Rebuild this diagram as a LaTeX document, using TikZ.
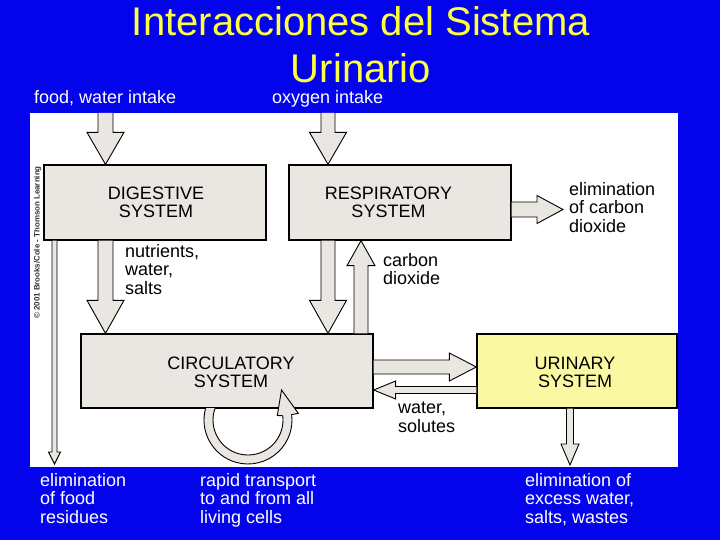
\documentclass[tikz,border=0pt]{standalone}
\usepackage{fontspec}
\setmainfont{Liberation Sans}
\usetikzlibrary{calc}
\definecolor{bgblue}{RGB}{4,4,236}
\definecolor{boxgray}{RGB}{234,230,225}
\definecolor{urinyellow}{RGB}{250,248,160}
\definecolor{titleyellow}{RGB}{255,255,64}
\newcommand\blockarr[5]{%
  \coordinate (ba-h) at ($(#2)!#5!(#1)$);
  \fill[boxgray] ($(#1)!#3!90:(#2)$) -- ($(ba-h)!#3!90:(#2)$) -- ($(ba-h)!#4!90:(#2)$) -- (#2) -- ($(ba-h)!#4!-90:(#2)$) -- ($(ba-h)!#3!-90:(#2)$) -- ($(#1)!#3!-90:(#2)$) -- cycle;
  \draw[arrline] ($(#1)!#3!90:(#2)$) -- ($(ba-h)!#3!90:(#2)$) -- ($(ba-h)!#4!90:(#2)$) -- (#2) -- ($(ba-h)!#4!-90:(#2)$) -- ($(ba-h)!#3!-90:(#2)$) -- ($(#1)!#3!-90:(#2)$);
}
\begin{document}
\begin{tikzpicture}[x=1pt,y=-1pt,
  sysbox/.style={draw=black, line width=1.3pt, fill=boxgray, inner sep=0pt},
  arrline/.style={draw=black, line width=0.9pt, line join=miter},
  boxtext/.style={font=\fontsize{18}{18.5}\selectfont, align=center, inner sep=0pt, text=black},
  lbl/.style={font=\fontsize{18}{18.5}\selectfont, align=left, inner sep=0pt, anchor=north west},
  wlbl/.style={lbl, text=white},
  titlestyle/.style={font=\fontsize{40}{47}\selectfont, text=titleyellow, inner sep=0pt, anchor=base}]
\useasboundingbox (0,0) rectangle (720,540);
\fill[bgblue] (0,0) rectangle (720,540);
\fill[white] (30,113) rectangle (678,467);

% title
\node[titlestyle] (title1) at (361,36) {Interacciones del Sistema};
\node[titlestyle] (title2) at (361,83) {Urinario};
\node[wlbl] (food) at (34,90.6) {food, water intake};
\node[wlbl] (oxy) at (272,90.6) {oxygen intake};

% copyright
\node[rotate=90, anchor=base, inner sep=0pt, font=\fontsize{7.9}{8}\selectfont\bfseries, text=black!80] (copy) at (39.5,242.5) {© 2001 Brooks/Cole - Thomson Learning};

% boxes
\node[sysbox, minimum width=222, minimum height=75] (dig) at (155,202.5) {};
\node[sysbox, minimum width=222, minimum height=75] (resp) at (400,202.5) {};
\node[sysbox, minimum width=292, minimum height=74] (circ) at (227,371) {};
\node[sysbox, fill=urinyellow, minimum width=200, minimum height=74] (urin) at (577,371) {};

\node[boxtext] (digt) at (156,202.5) {DIGESTIVE\\SYSTEM};
\node[boxtext] (respt) at (388.5,202.5) {RESPIRATORY\\SYSTEM};
\node[boxtext] (circt) at (231,372.5) {CIRCULATORY\\SYSTEM};
\node[boxtext] (urint) at (575,372.5) {URINARY\\SYSTEM};

% named coordinates for connector ends
\coordinate (foodin) at (105.5,113);
\coordinate (oxyin) at (328,113);
\coordinate (co2x) at (361,300);
\coordinate (co2end) at (563,209.5);
\coordinate (c2u) at (420,367);
\coordinate (u2c) at (420,390);
\coordinate (uout) at (570,465);
\coordinate (resout) at (54.5,464);

% block arrows
\blockarr{foodin}{foodin |- dig.north}{7.5pt}{18.5pt}{32pt}
\blockarr{oxyin}{oxyin |- resp.north}{7pt}{18.5pt}{32pt}
\blockarr{foodin |- dig.south}{foodin |- circ.north}{7.5pt}{18.5pt}{33pt}
\blockarr{oxyin |- resp.south}{oxyin |- circ.north}{7pt}{18.5pt}{33pt}
\blockarr{co2x |- circ.north}{co2x |- resp.south}{7pt}{14pt}{25pt}
\blockarr{resp.east |- co2end}{co2end}{7.5pt}{14pt}{26pt}
\blockarr{circ.east |- c2u}{urin.west |- c2u}{7pt}{14pt}{27pt}
\blockarr{urin.west |- u2c}{circ.east |- u2c}{3.5pt}{9pt}{22pt}
\blockarr{uout |- urin.south}{uout}{3.5pt}{9pt}{21pt}
\blockarr{resout |- dig.south}{resout}{2.5pt}{6pt}{12pt}

% circular arrow
\coordinate (rc) at (248,420);
\coordinate (hr) at (298.3,413.3);
\coordinate (ht) at (281.5,390);
\coordinate (hl) at (277.3,415.5);
\fill[boxgray] ($(rc)+(195.8:44)$) arc[start angle=195.8, end angle=-7, radius=44] -- (hr) -- (ht) -- (hl) -- ($(rc)+(-7:35)$) arc[start angle=-7, end angle=200, radius=35] -- cycle;
\draw[arrline] ($(rc)+(195.8:44)$) arc[start angle=195.8, end angle=-7, radius=44] -- (hr) -- (ht) -- (hl) -- ($(rc)+(-7:35)$) arc[start angle=-7, end angle=200, radius=35];

% labels
\node[lbl] (nut) at (125,244.1) {nutrients,\\water,\\salts};
\node[lbl] (co2) at (383,253.1) {carbon\\dioxide};
\node[lbl] (elco2) at (569,182.1) {elimination\\of carbon\\dioxide};
\node[lbl] (ws) at (398,402.1) {water,\\solutes};
\node[wlbl] (elfood) at (40,473.1) {elimination\\of food\\residues};
\node[wlbl] (rapid) at (200,473.1) {rapid transport\\to and from all\\living cells};
\node[wlbl] (elwater) at (525,473.1) {elimination of\\excess water,\\salts, wastes};
\end{tikzpicture}
\end{document}
